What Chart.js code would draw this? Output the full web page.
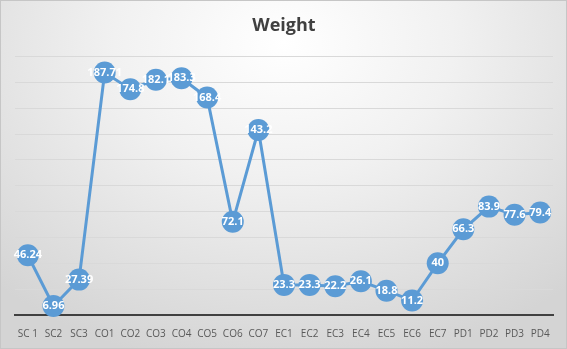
<!DOCTYPE html>
<html>
<head>
<meta charset="utf-8">
<script src="https://cdn.jsdelivr.net/npm/chart.js@4/dist/chart.umd.min.js"></script>
<style>
  html, body { margin: 0; padding: 0; }
  #wrap {
    position: relative;
    width: 567px; height: 349px;
    box-sizing: border-box;
    border: 1px solid #c6c6c6;
    background: radial-gradient(ellipse 75% 95% at 50% 12%, #ffffff 0%, #f1f1f1 40%, #d4d4d4 100%);
  }
  canvas { display: block; }
</style>
</head>
<body>
<div id="wrap"><canvas id="c" width="565" height="347"></canvas></div>
<script>
const categories = ["SC 1","SC2","SC3","CO1","CO2","CO3","CO4","CO5","CO6","CO7","EC1","EC2","EC3","EC4","EC5","EC6","EC7","PD1","PD2","PD3","PD4"];
const weights = [46.24, 6.96, 27.39, 187.71, 174.8, 182.1, 183.3, 168.4, 72.1, 143.2, 23.3, 23.3, 22.2, 26.1, 18.8, 11.2, 40, 66.3, 83.9, 77.6, 79.4];
const valueLabels = ["46.24","6.96","27.39","187.71","174.8","182.1","183.3","168.4","72.1","143.2","23.3","23.3","22.2","26.1","18.8","11.2","40","66.3","83.9","77.6","79.4"];

// Writes each value in white on top of its marker
const pointLabels = {
  id: 'pointLabels',
  afterDatasetsDraw(chart) {
    const ctx = chart.ctx;
    const meta = chart.getDatasetMeta(0);
    ctx.save();
    ctx.font = 'bold 11px "Liberation Sans Narrow", "Open Sans", sans-serif';
    ctx.fillStyle = '#ffffff';
    ctx.textAlign = 'center';
    ctx.textBaseline = 'middle';
    meta.data.forEach((pt, i) => {
      ctx.fillText(valueLabels[i], pt.x, pt.y);
    });
    ctx.restore();
  }
};

new Chart(document.getElementById('c'), {
  type: 'line',
  data: {
    labels: categories,
    datasets: [{
      data: weights,
      borderColor: '#5b9bd5',
      backgroundColor: '#5b9bd5',
      borderWidth: 3,
      pointRadius: 11,
      pointHoverRadius: 11,
      pointBorderWidth: 0,
      tension: 0,
      clip: false
    }]
  },
  options: {
    responsive: false,
    animation: false,
    layout: { padding: { left: 14, right: 13, top: 0, bottom: 3 } },
    plugins: {
      legend: { display: false },
      tooltip: { enabled: false },
      title: {
        display: true,
        text: 'Weight',
        color: '#404040',
        font: { family: '"Open Sans", sans-serif', size: 18, weight: 'bold' },
        padding: { top: 14, bottom: 20 }
      }
    },
    scales: {
      x: {
        offset: true,
        grid: { display: false },
        border: { display: true, color: '#404040', width: 2 },
        ticks: {
          color: '#595959',
          font: { family: '"Open Sans", sans-serif', size: 10 },
          maxRotation: 0, autoSkip: false, padding: 5
        }
      },
      y: {
        min: 0, max: 200,
        ticks: { display: false, stepSize: 20 },
        grid: { color: '#d9d9d9', lineWidth: 1, drawTicks: false },
        border: { display: false }
      }
    }
  },
  plugins: [pointLabels]
});
</script>
</body>
</html>
